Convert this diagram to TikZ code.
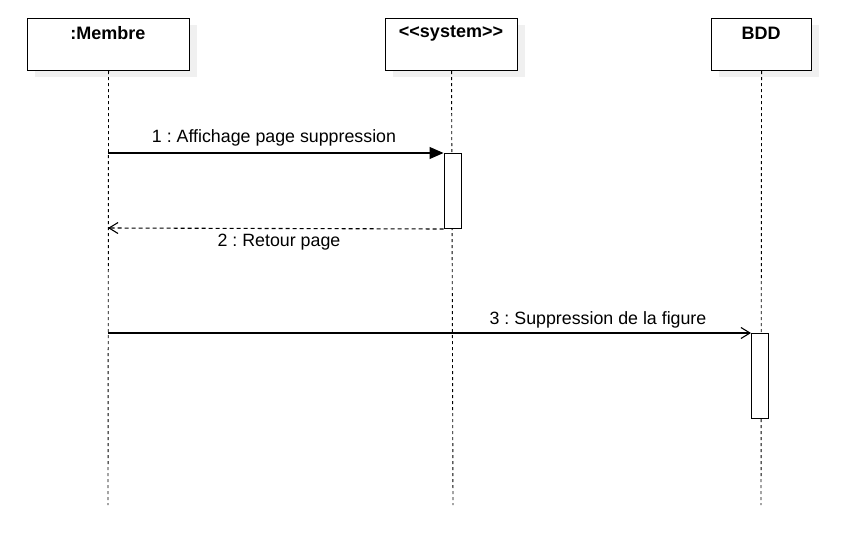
\documentclass[tikz,border=0pt]{standalone}
\usepackage{fontspec}
\setmainfont{Liberation Sans}
\usetikzlibrary{arrows.meta,positioning}
\frenchspacing
\begin{document}
\begin{tikzpicture}[x=1pt,y=-1pt,
  head/.style={draw=black,line width=1.1pt,fill=white,inner sep=0pt,anchor=north west},
  shadowbox/.style={fill=black!6,draw=none},
  lifeline/.style={line width=0.9pt,dash pattern=on 3pt off 3pt},
  act/.style={draw=black,line width=1pt,fill=white,inner sep=0pt,minimum width=17pt,anchor=north},
  msg/.style={line width=1.1pt},
  lbl/.style={font=\fontsize{17.8}{20}\selectfont,inner sep=0pt},
  ttl/.style={font=\bfseries\fontsize{18}{20}\selectfont,inner sep=0pt}
]
\useasboundingbox (0,0) rectangle (850,540);
% shadows
\fill[shadowbox] (35,25) rectangle (197,77);
\fill[shadowbox] (393,25) rectangle (525,77);
\fill[shadowbox] (719,25) rectangle (819,77);
% heads
\node[head,minimum width=162pt,minimum height=52pt] (m) at (27,18) {};
\node[head,minimum width=132pt,minimum height=52pt] (s) at (385,18) {};
\node[head,minimum width=100pt,minimum height=52pt] (b) at (711,18) {};
\node[ttl] (mt) at (108,33) {:Membre};
\node[ttl] (st) at (451,33) {<\kern0pt<system>\kern0pt>};
\node[ttl] (bt) at (761,33) {BDD};
% lifelines
\coordinate (me) at (108,505);
\coordinate (se) at (453,505);
\coordinate (be) at (761,505);
\draw[lifeline] (m.south) -- (me);
\draw[lifeline] (s.south) -- (se);
\draw[lifeline] (b.south) -- (be);
% activations
\node[act,minimum height=75pt] (a1) at (452.5,153) {};
\node[act,minimum height=85pt] (a2) at (760,333) {};
% message endpoints on Membre lifeline
\coordinate (m1) at (108,153);
\coordinate (m2) at (108,228);
\coordinate (m3) at (108,333);
% messages
\draw[msg,-{Triangle[length=14pt,width=12pt]}] (m1) -- (a1.north west);
\draw[msg,dash pattern=on 4pt off 3pt,-{Straight Barb[length=9pt,width=11pt]}] (a1.south west) -- (m2);
\draw[msg,-{Straight Barb[length=9pt,width=11pt]}] (m3) -- (a2.north west);
% labels
\node[lbl] (l1) at (274,138) {1 : Affichage page suppression};
\node[lbl] (l2) at (279,242) {2 : Retour page};
\node[lbl] (l3) at (598,320) {3 : Suppression de la figure};
\end{tikzpicture}
\end{document}
